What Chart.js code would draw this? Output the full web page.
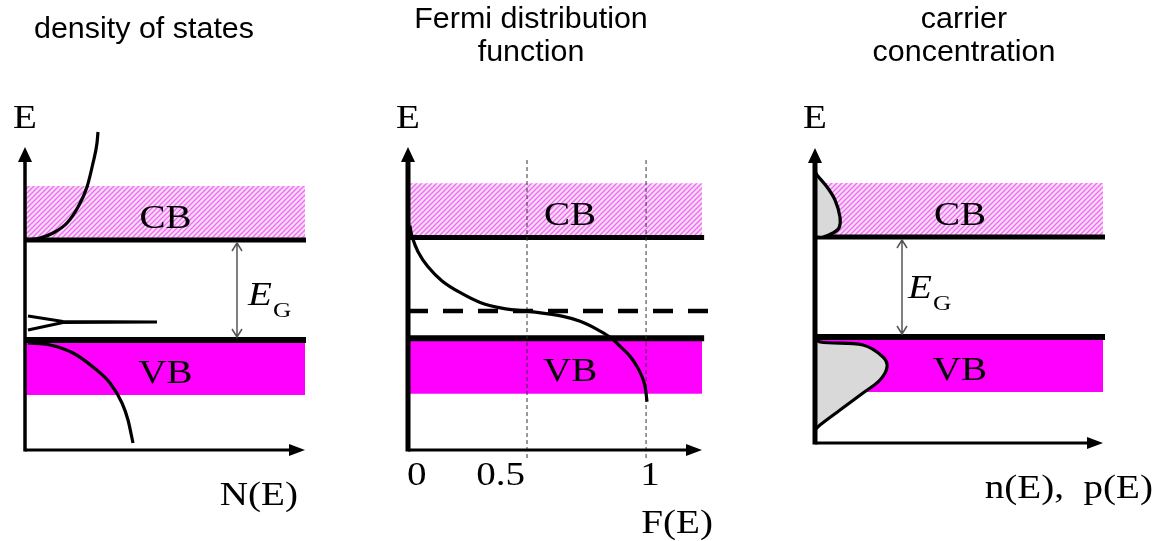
<!DOCTYPE html>
<html>
<head>
<meta charset="utf-8">
<title>Semiconductor: density of states, Fermi function, carriers</title>
<script src="https://cdn.jsdelivr.net/npm/chart.js@4.4.1/dist/chart.umd.min.js"></script>
<style>
  html, body { margin: 0; padding: 0; background: #fff; }
  #wrap { position: relative; width: 1158px; height: 541px; overflow: hidden; }
  #wrap canvas { position: absolute; left: 0; top: 0; }
</style>
</head>
<body>
<div id="wrap">
  <canvas id="dos" width="1158" height="541"></canvas>
  <canvas id="fermi" width="1158" height="541"></canvas>
  <canvas id="carrier" width="1158" height="541"></canvas>
</div>
<script>
// energies in units of the band gap, valence band edge Ev = 0
const cbRange = [1.0, 1.54];     // conduction band: edge, top of drawn band
const vbRange = [-0.55, 0.0];    // valence band: bottom of drawn band, edge
const fermiLevel = 0.27;

// density of states N(E)
const dosCbN = [0.3, 1.5, 2.8, 4.2, 5.3, 6.2, 6.8, 7.2, 7.3];
const dosCbE = [1.0, 1.02, 1.07, 1.17, 1.33, 1.53, 1.77, 1.97, 2.08];
const dosVbN = [0.3, 2.5, 4.8, 6.8, 8.5, 9.7, 10.3, 10.8];
const dosVbE = [-0.03, -0.05, -0.13, -0.27, -0.43, -0.63, -0.8, -1.03];
const impN = [0.3, 3.8, 13.2, 3.8, 0.3];
const impE = [0.24, 0.185, 0.18, 0.175, 0.10];

// Fermi distribution F(E)
const fermiF = [0.008, 0.017, 0.042, 0.084, 0.143, 0.218, 0.303, 0.399, 0.508, 0.651, 0.723, 0.794, 0.849, 0.891, 0.933, 0.962, 0.983, 0.996, 1.004];
const fermiE = [1.12, 1.01, 0.86, 0.71, 0.57, 0.455, 0.356, 0.297, 0.267, 0.218, 0.168, 0.089, 0.01, -0.08, -0.18, -0.28, -0.38, -0.48, -0.63];
const fermiTicks = [0, 0.5, 1];
const fermiTickLabels = ['0', '0.5', '1'];

// carrier concentration n(E), p(E)
const nVal = [0, 0.8, 1.8, 2.4, 2.5, 2.0, 1.2, 0.2, 0];
const nE = [1.0, 1.0, 1.04, 1.09, 1.2, 1.37, 1.5, 1.62, 1.66];
const pVal = [0, 0.5, 4.8, 6.8, 7.2, 6.5, 4.8, 2.5, 0.5, 0];
const pE = [0, -0.05, -0.08, -0.2, -0.3, -0.43, -0.56, -0.73, -0.88, -0.93];

const SANS = '29px "Liberation Sans", Arial, sans-serif';
const SERIF = '34px "Liberation Serif", "Times New Roman", serif';
const SERIF_IT = 'italic 34px "Liberation Serif", "Times New Roman", serif';
const SERIF_SUB = '22px "Liberation Serif", "Times New Roman", serif';
const MAGENTA = '#ff00ff';

const pts = (xs, ys) => xs.map((v, i) => ({ x: v, y: ys[i] }));

function hatch() {
  const c = document.createElement('canvas');
  c.width = c.height = 5;
  const g = c.getContext('2d');
  g.fillStyle = '#fbdcfb';
  g.fillRect(0, 0, 5, 5);
  g.strokeStyle = '#ee6aee';
  g.lineWidth = 1.3;
  g.beginPath();
  g.moveTo(0, 5); g.lineTo(5, 0);
  g.moveTo(-1, 1); g.lineTo(1, -1);
  g.moveTo(4, 6); g.lineTo(6, 4);
  g.stroke();
  return g.createPattern(c, 'repeat');
}
const cbFill = hatch();

function curve(data, w, extra) {
  return Object.assign({
    data, showLine: true, borderColor: '#000', borderWidth: w,
    pointRadius: 0, fill: false, clip: false, tension: 0.4
  }, extra || {});
}
function hline(yv, xMax, w) {
  return curve([{ x: 0, y: yv }, { x: xMax, y: yv }], w, { tension: 0, borderCapStyle: 'butt' });
}
function bandRect(range, xMax, color) {
  return {
    data: [{ x: 0, y: range[0] }, { x: xMax, y: range[0] }, { x: xMax, y: range[1] }, { x: 0, y: range[1] }],
    showLine: true, fill: 'shape', backgroundColor: color,
    borderColor: 'rgba(0,0,0,0)', borderWidth: 1, pointRadius: 0, tension: 0
  };
}

function txt(ctx, s, px, py, font, align, sx) {
  ctx.save();
  ctx.translate(px, py);
  ctx.scale(sx || 1, 1);
  ctx.font = font;
  ctx.fillStyle = '#000';
  ctx.textAlign = align;
  ctx.textBaseline = 'alphabetic';
  ctx.fillText(s, 0, 0);
  ctx.restore();
}

function drawAxes(chart, yw, xw) {
  const { ctx, chartArea: a } = chart;
  ctx.save();
  ctx.strokeStyle = '#000';
  ctx.fillStyle = '#000';
  ctx.lineCap = 'butt';
  ctx.lineWidth = yw;
  ctx.beginPath();
  ctx.moveTo(a.left, a.bottom + xw / 2);
  ctx.lineTo(a.left, a.top + 12);
  ctx.stroke();
  ctx.beginPath();
  ctx.moveTo(a.left, a.top);
  ctx.lineTo(a.left - 7, a.top + 15);
  ctx.lineTo(a.left + 7, a.top + 15);
  ctx.closePath();
  ctx.fill();
  ctx.lineWidth = xw;
  ctx.beginPath();
  ctx.moveTo(a.left, a.bottom);
  ctx.lineTo(a.right - 12, a.bottom);
  ctx.stroke();
  ctx.beginPath();
  ctx.moveTo(a.right, a.bottom);
  ctx.lineTo(a.right - 16, a.bottom - 6);
  ctx.lineTo(a.right - 16, a.bottom + 6);
  ctx.closePath();
  ctx.fill();
  ctx.restore();
}

function gapArrow(ctx, gx, top, bottom) {
  ctx.save();
  ctx.strokeStyle = '#555';
  ctx.lineWidth = 1.5;
  ctx.beginPath();
  ctx.moveTo(gx, top + 3); ctx.lineTo(gx, bottom - 3);
  ctx.moveTo(gx - 5, top + 11); ctx.lineTo(gx, top + 3); ctx.lineTo(gx + 5, top + 11);
  ctx.moveTo(gx - 5, bottom - 11); ctx.lineTo(gx, bottom - 3); ctx.lineTo(gx + 5, bottom - 11);
  ctx.stroke();
  ctx.restore();
}

function egLabel(ctx, px, py) {
  txt(ctx, 'E', px, py, SERIF_IT, 'left', 1.15);
  txt(ctx, 'G', px + 25, py + 12, SERIF_SUB, 'left', 1.15);
}

function bandLabels(chart, xMid, dx) {
  const { ctx, scales: { y } } = chart;
  const cbMid = (y.getPixelForValue(cbRange[0]) + y.getPixelForValue(cbRange[1])) / 2;
  const vbMid = (y.getPixelForValue(vbRange[0]) + y.getPixelForValue(vbRange[1])) / 2;
  txt(ctx, 'CB', xMid + dx, cbMid + 15, SERIF, 'center', 1.15);
  txt(ctx, 'VB', xMid + dx, vbMid + 15, SERIF, 'center', 1.15);
}

function baseOptions(xr, yr, pad) {
  return {
    responsive: false,
    animation: false,
    events: [],
    layout: { padding: pad },
    plugins: { legend: { display: false }, tooltip: { enabled: false }, title: { display: false } },
    scales: {
      x: { type: 'linear', display: false, min: xr[0], max: xr[1] },
      y: { type: 'linear', display: false, min: yr[0], max: yr[1] }
    }
  };
}

// ---------- panel 1: density of states ----------
const dosRight = 28.1;
new Chart(document.getElementById('dos'), {
  type: 'scatter',
  data: {
    datasets: [
      curve(pts(dosCbN, dosCbE), 3.2, { cubicInterpolationMode: 'monotone' }),
      curve(pts(dosVbN, dosVbE), 3.2, { cubicInterpolationMode: 'monotone' }),
      curve(pts(impN, impE), 3.2, { tension: 0 }),
      hline(cbRange[0], dosRight, 5),
      hline(vbRange[1], dosRight, 6),
      bandRect(cbRange, dosRight, cbFill),
      bandRect(vbRange, dosRight, MAGENTA)
    ]
  },
  options: baseOptions([0, 28], [-1.1, 1.93], { left: 25, right: 853, top: 147, bottom: 91 }),
  plugins: [{
    id: 'decorDos',
    afterDatasetsDraw(chart) {
      const { ctx, chartArea: a, scales: { x, y } } = chart;
      drawAxes(chart, 3.5, 3);
      txt(ctx, 'density of states', 144, 38, SANS, 'center', 1.05);
      txt(ctx, 'E', a.left, a.top - 19, SERIF, 'center', 1.15);
      bandLabels(chart, x.getPixelForValue(dosRight / 2), 0);
      txt(ctx, 'N(E)', a.right - 7, a.bottom + 55, SERIF, 'right', 1.15);
      const ec = y.getPixelForValue(cbRange[0]), ev = y.getPixelForValue(vbRange[1]);
      const gx = x.getPixelForValue(21.2);
      gapArrow(ctx, gx, ec, ev);
      egLabel(ctx, gx + 11, (ec + ev) / 2 + 15);
    }
  }]
});

// ---------- panel 2: Fermi distribution ----------
const fermiRight = 1.244;
new Chart(document.getElementById('fermi'), {
  type: 'scatter',
  data: {
    datasets: [
      curve(pts(fermiF, fermiE), 3.2, { tension: 0.3 }),
      curve([{ x: 0, y: fermiLevel }, { x: 1.28, y: fermiLevel }], 4.5, { tension: 0, borderDash: [20, 15], borderCapStyle: 'butt' }),
      curve([{ x: fermiTicks[1], y: -1.19 }, { x: fermiTicks[1], y: 1.79 }], 1, { tension: 0, borderDash: [4, 3], borderColor: '#333' }),
      curve([{ x: fermiTicks[2], y: -1.19 }, { x: fermiTicks[2], y: 1.79 }], 1, { tension: 0, borderDash: [4, 3], borderColor: '#333' }),
      hline(cbRange[0], fermiRight, 5),
      hline(vbRange[1], fermiRight, 6),
      bandRect(cbRange, fermiRight, cbFill),
      bandRect(vbRange, fermiRight, MAGENTA)
    ]
  },
  options: baseOptions([0, 1.235], [-1.11, 1.90], { left: 408, right: 456, top: 147, bottom: 91 }),
  plugins: [{
    id: 'decorFermi',
    afterDatasetsDraw(chart) {
      const { ctx, chartArea: a, scales: { x } } = chart;
      drawAxes(chart, 5, 3);
      txt(ctx, 'Fermi distribution', 531, 28, SANS, 'center', 1.05);
      txt(ctx, 'function', 531, 61, SANS, 'center', 1.05);
      txt(ctx, 'E', a.left, a.top - 19, SERIF, 'center', 1.15);
      bandLabels(chart, x.getPixelForValue(fermiRight / 2), 14);
      const tickAlign = ['left', 'right', 'center'];
      const tickShift = [-1, -2, 4];
      fermiTicks.forEach((v, i) => {
        txt(ctx, fermiTickLabels[i], x.getPixelForValue(v) + tickShift[i], a.bottom + 35, SERIF, tickAlign[i], 1.15);
      });
      txt(ctx, 'F(E)', a.right + 11, a.bottom + 83, SERIF, 'right', 1.15);
    }
  }]
});

// ---------- panel 3: carrier concentration ----------
const carrierRight = 29.0;
new Chart(document.getElementById('carrier'), {
  type: 'scatter',
  data: {
    datasets: [
      curve(pts(nVal, nE), 3.2, { fill: 'shape', backgroundColor: '#d9d9d9', tension: 0.35 }),
      curve(pts(pVal, pE), 3.2, { fill: 'shape', backgroundColor: '#d9d9d9', tension: 0.35 }),
      hline(cbRange[0], carrierRight, 5),
      hline(vbRange[1], carrierRight, 6),
      bandRect(cbRange, carrierRight, cbFill),
      bandRect(vbRange, carrierRight, MAGENTA)
    ]
  },
  options: baseOptions([0, 28.8], [-1.06, 1.89], { left: 815, right: 55, top: 148, bottom: 98 }),
  plugins: [{
    id: 'decorCarrier',
    afterDatasetsDraw(chart) {
      const { ctx, chartArea: a, scales: { x, y } } = chart;
      drawAxes(chart, 5, 3);
      txt(ctx, 'carrier', 964, 28, SANS, 'center', 1.05);
      txt(ctx, 'concentration', 964, 61, SANS, 'center', 1.05);
      txt(ctx, 'E', a.left, a.top - 20, SERIF, 'center', 1.15);
      bandLabels(chart, x.getPixelForValue(carrierRight / 2), 0);
      txt(ctx, 'n(E),  p(E)', a.right + 50, a.bottom + 55, SERIF, 'right', 1.15);
      const ec = y.getPixelForValue(cbRange[0]), ev = y.getPixelForValue(vbRange[1]);
      const gx = x.getPixelForValue(8.7);
      gapArrow(ctx, gx, ec, ev);
      egLabel(ctx, gx + 6, (ec + ev) / 2 + 11);
    }
  }]
});
</script>
</body>
</html>
